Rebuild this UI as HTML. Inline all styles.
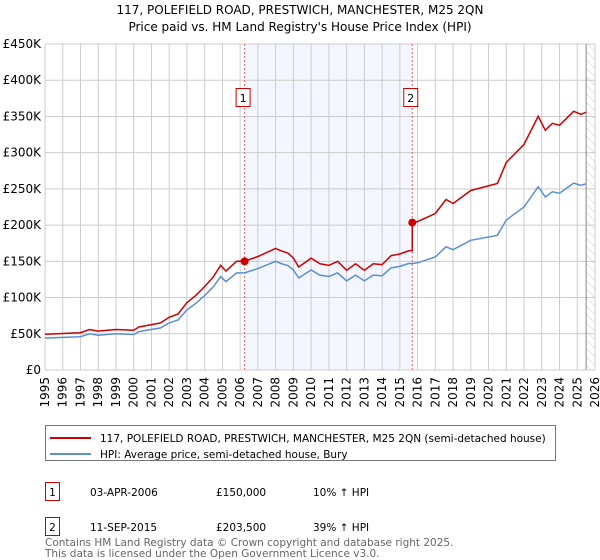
<!DOCTYPE html>
<html><head><meta charset="utf-8"><style>
body{margin:0;background:#fff;font-family:"Liberation Sans","DejaVu Sans",sans-serif;}
svg{display:block}
</style></head><body>
<svg width="600" height="560" viewBox="0 0 600 560" font-family="'DejaVu Sans','Liberation Sans',sans-serif">
<defs><pattern id="hatch" width="6" height="6" patternUnits="userSpaceOnUse" patternTransform="rotate(-45)"><line x1="0" y1="0" x2="0" y2="6" stroke="#ccc" stroke-width="1"/></pattern></defs>
<text x="300" y="14" text-anchor="middle" font-size="12" fill="#000">117, POLEFIELD ROAD, PRESTWICH, MANCHESTER, M25 2QN</text>
<text x="300" y="31" text-anchor="middle" font-size="12" fill="#000">Price paid vs. HM Land Registry's House Price Index (HPI)</text>
<g id="plot"></g>
<g>
<rect x="45.5" y="425.5" width="510" height="35" fill="#fff" stroke="#777"/>
<line x1="50" y1="438" x2="91" y2="438" stroke="#cc0000" stroke-width="2"/>
<text x="100" y="442" font-size="10.5">117, POLEFIELD ROAD, PRESTWICH, MANCHESTER, M25 2QN (semi-detached house)</text>
<line x1="50" y1="454" x2="91" y2="454" stroke="#5b8fd0" stroke-width="2"/>
<text x="100" y="458" font-size="10.5">HPI: Average price, semi-detached house, Bury</text>
</g>
<g font-size="10.5">
<rect x="45.5" y="482.5" width="14" height="18" fill="#fff" stroke="#cc0000"/><text x="52.5" y="496" text-anchor="middle">1</text>
<text x="90" y="496">03-APR-2006</text><text x="216" y="496">£150,000</text><text x="313" y="496">10% ↑ HPI</text>
<rect x="45.5" y="517.5" width="14" height="18" fill="#fff" stroke="#cc0000"/><text x="52.5" y="531" text-anchor="middle">2</text>
<text x="90" y="531">11-SEP-2015</text><text x="216" y="531">£203,500</text><text x="313" y="531">39% ↑ HPI</text>
</g>
<text x="45" y="546" font-size="10.5" fill="#666">Contains HM Land Registry data © Crown copyright and database right 2025.</text>
<text x="45" y="557" font-size="10.5" fill="#666">This data is licensed under the Open Government Licence v3.0.</text>
</svg>
<script>
const hpiYears=[1995,1996,1997,1997.5,1998,1999,2000,2000.3,2001,2001.5,2002,2002.5,2003,2003.5,2004,2004.5,2004.9,2005.2,2005.8,2006.25,2007,2008,2008.3,2008.7,2009,2009.3,2010,2010.5,2011,2011.5,2012,2012.5,2013,2013.5,2014,2014.5,2015,2015.5,2015.7,2016,2017,2017.6,2018,2019,2020.5,2021,2022,2022.8,2023.2,2023.6,2024,2024.8,2025.2,2025.5];
const hpiValues=[44,45,46,50,48,50,49,53,56,58,65,69,83,92,103,115,129,122,134,134,140,150,147,144,138,127,138,131,129,134,123,131,123,131,130,141,143,147,147,148,156,170,166,179,186,207,225,253,239,246,244,258,255,257];
const saleDates=[2006.25,2015.7];
const salePrices=[150,203.5];
const yTicks=[0,50,100,150,200,250,300,350,400,450];
const yTickLabels=["£0","£50K","£100K","£150K","£200K","£250K","£300K","£350K","£400K","£450K"];
const xTicks=[];for(let y=1995;y<=2026;y++)xTicks.push(y);

const X0=45,X1=595,Y0=370,Y1=44;
const xs=t=>X0+(t-1995)/31*(X1-X0);
const ys=v=>Y0-v/450*(Y0-Y1);
const NS="http://www.w3.org/2000/svg";
const g=document.getElementById('plot');
function mk(tag,at,parent){const e=document.createElementNS(NS,tag);for(const k in at)e.setAttribute(k,at[k]);(parent||g).appendChild(e);return e;}
function hpiAt(t){for(let i=0;i<hpiYears.length-1;i++){if(t<=hpiYears[i+1]){const f=(t-hpiYears[i])/(hpiYears[i+1]-hpiYears[i]);return hpiValues[i]+f*(hpiValues[i+1]-hpiValues[i]);}}return hpiValues[hpiValues.length-1];}

let r=mk('rect',{x:xs(saleDates[0]),y:Y1,width:xs(saleDates[1])-xs(saleDates[0]),height:Y0-Y1,fill:'#f3f6fe'});


let h=mk('rect',{x:xs(2025.5),y:Y1,width:X1-xs(2025.5),height:Y0-Y1,fill:'url(#hatch)'});


xTicks.forEach(t=>{
 let l=mk('line',{x1:xs(t),x2:xs(t),y1:Y1,y2:Y0,stroke:'#cccccc','stroke-width':1});
 
 
 let tx=mk('text',{x:0,y:0,'font-size':12,fill:'#000',transform:`translate(${xs(t)+4},${Y0+7}) rotate(-90)`,'text-anchor':'end'});
 tx.textContent=t;
 
 
});
yTicks.forEach((v,i)=>{
 let l=mk('line',{x1:X0,x2:X1,y1:ys(v),y2:ys(v),stroke:'#cccccc','stroke-width':1});
 
 
 let tx=mk('text',{x:X0-4,y:ys(v)+4,'font-size':12,fill:'#000','text-anchor':'end'});
 tx.textContent=yTickLabels[i];
 
 
});
let nl=mk('line',{x1:xs(2025.5),x2:xs(2025.5),y1:Y1,y2:Y0,stroke:'#888','stroke-width':1});


saleDates.forEach((d,i)=>{
 let l=mk('line',{x1:xs(d),x2:xs(d),y1:Y1,y2:Y0,stroke:'#e06060','stroke-width':1,'stroke-dasharray':'2,2'});
 
 
 let b=mk('rect',{x:xs(d)-8.5,y:88.5,width:14,height:18,fill:'#fff',stroke:'#cc0000'});
 
 
 let t=mk('text',{x:xs(d)-1.5,y:102,'font-size':11,'text-anchor':'middle'});
 t.textContent=i+1;
 
 
});
let hp=hpiYears.map((t,i)=>`${xs(t).toFixed(1)},${ys(hpiValues[i]).toFixed(1)}`).join(' ');
let hl=mk('polyline',{points:hp,fill:'none',stroke:'#5b8fd0','stroke-width':1.5});


function ratioAt(t){let k=0;for(let i=0;i<saleDates.length;i++)if(t>=saleDates[i]-1e-9)k=i;return salePrices[k]/hpiAt(saleDates[k]);}
let pts=[];
hpiYears.forEach((t,i)=>{
 saleDates.forEach((d,k)=>{if(k>0&&d>(i?hpiYears[i-1]:0)&&d<=t){pts.push([d-0.001,hpiAt(d)*ratioAt(d-0.01)]);pts.push([d,salePrices[k]]);}});
 pts.push([t,hpiValues[i]*ratioAt(t)]);
});
let pl=mk('polyline',{points:pts.map(p=>`${xs(p[0]).toFixed(1)},${ys(p[1]).toFixed(1)}`).join(' '),fill:'none',stroke:'#cc0000','stroke-width':1.5});


saleDates.forEach((d,i)=>{
 let c=mk('circle',{cx:xs(d),cy:ys(salePrices[i]),r:4,fill:'#cc0000'});
 
 
});
let ax=mk('line',{x1:X0,x2:X1,y1:Y0,y2:Y0,stroke:'#ccc'});


</script>
</body></html>
